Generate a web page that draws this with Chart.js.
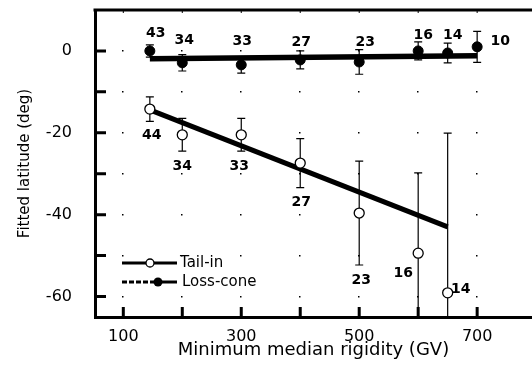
<!DOCTYPE html>
<html><head><meta charset="utf-8">
<script src="https://cdn.jsdelivr.net/npm/chart.js@4"></script>
<style>html,body{margin:0;padding:0;background:#fff;overflow:hidden}#wrap{width:532px;height:380px}</style>
</head><body><div id="wrap"><canvas id="c" width="532" height="380"></canvas></div>
<script>
// ---- data ----
const rigidityTail = [145, 200, 300, 400, 500, 600, 650];
const latTail      = [-14.2, -20.5, -20.5, -27.4, -39.6, -49.4, -59.1];
const errTail      = [3, 4, 4, 6, 12.7, 19.6, 39];
const countTail    = [44, 34, 33, 27, 23, 16, 14];

const rigidityLoss = [145, 200, 300, 400, 500, 600, 650, 700];
const latLoss      = [0, -2.9, -3.4, -2.2, -2.7, 0, -0.5, 1];
const errLoss      = [1.5, 2, 2, 2.2, 3, 2.2, 2.4, 3.8];
const countLoss    = [43, 34, 33, 27, 23, 16, 14, 10];

const fitTailX = [145, 650], fitTailY = [-14.4, -43];
const fitLossX = [145, 700], fitLossY = [-1.9, -1.2];

const xTickLabels = [100, 300, 500, 700];
const yTickLabels = [0, -20, -40, -60];
const xMinorTicks = [100, 200, 300, 400, 500, 600, 700];
const yMinorTicks = [0, -10, -20, -30, -40, -50, -60];
const seriesNames = ['Tail-in', 'Loss-cone'];

const FONT = 'DejaVu Sans';
const toXY = (xs, ys) => xs.map((v, i) => ({x: v, y: ys[i]}));

// label placement (pixel offsets from each point)
const tailLabelOffsets = [[2,26],[0,32],[-2,32],[1,39],[2,67],[-15,20],[13,-3]];
const lossLabelOffsets = [[6,-18],[2,-22],[1,-23],[1,-18],[6,-20],[5,-16],[5,-18],[23,-5]];

const noPad = s => { s.paddingTop = 0; s.paddingBottom = 0; s.paddingLeft = 0; s.paddingRight = 0; };

const decor = {
  id: 'decor',
  beforeDatasetsDraw(chart) {
    const {ctx, chartArea: a, scales: {x, y}} = chart;
    ctx.save();
    ctx.fillStyle = '#000';
    xMinorTicks.forEach(gx => yMinorTicks.forEach(gy => {
      const px = x.getPixelForValue(gx), py = y.getPixelForValue(gy);
      ctx.fillRect(Math.round(px) - 1, Math.round(py) - 1, 1.5, 1.5);
    }));
    ctx.strokeStyle = '#000';
    ctx.lineWidth = 3;
    ctx.beginPath();
    yMinorTicks.forEach(v => {
      const py = y.getPixelForValue(v);
      ctx.moveTo(a.left, py); ctx.lineTo(a.left + 11, py);
    });
    xMinorTicks.forEach(v => {
      const px = x.getPixelForValue(v);
      ctx.moveTo(px, a.bottom); ctx.lineTo(px, a.bottom - 10);
    });
    ctx.stroke();
    ctx.beginPath();
    ctx.moveTo(a.left - 1.5, a.top); ctx.lineTo(a.right, a.top);
    ctx.stroke();
    ctx.lineWidth = 1;
    ctx.beginPath();
    xMinorTicks.forEach(v => {
      const px = x.getPixelForValue(v);
      ctx.moveTo(px, a.top); ctx.lineTo(px, a.top + 3);
    });
    ctx.stroke();
    ctx.beginPath();
    ctx.rect(a.left, a.top, a.right - a.left, a.bottom - a.top);
    ctx.clip();
    ctx.lineWidth = 1.2;
    const bars = (xs, ys, es) => xs.forEach((xv, i) => {
      const px = x.getPixelForValue(xv);
      const p1 = y.getPixelForValue(ys[i] + es[i]);
      const p2 = y.getPixelForValue(ys[i] - es[i]);
      ctx.beginPath();
      ctx.moveTo(px, p1); ctx.lineTo(px, p2);
      ctx.moveTo(px - 4, p1); ctx.lineTo(px + 4, p1);
      ctx.moveTo(px - 4, p2); ctx.lineTo(px + 4, p2);
      ctx.stroke();
    });
    bars(rigidityTail, latTail, errTail);
    bars(rigidityLoss, latLoss, errLoss);
    ctx.restore();
  },
  afterDatasetsDraw(chart) {
    const {ctx, scales: {x, y}} = chart;
    ctx.save();
    ctx.fillStyle = '#000';
    ctx.font = 'bold 14px "' + FONT + '"';
    ctx.textAlign = 'center';
    ctx.textBaseline = 'middle';
    const labels = (xs, ys, ns, offs) => xs.forEach((xv, i) => {
      const px = x.getPixelForValue(xv), py = y.getPixelForValue(ys[i]);
      ctx.fillText(String(ns[i]), px + offs[i][0], py + offs[i][1]);
    });
    labels(rigidityTail, latTail, countTail, tailLabelOffsets);
    labels(rigidityLoss, latLoss, countLoss, lossLabelOffsets);

    const lx0 = 122, lx1 = 177, mx = 150, ty = 263, ly = 282;
    ctx.strokeStyle = '#000';
    ctx.lineWidth = 3;
    ctx.beginPath(); ctx.moveTo(lx0, ty); ctx.lineTo(lx1, ty); ctx.stroke();
    ctx.setLineDash([5, 2]);
    ctx.beginPath(); ctx.moveTo(lx0, ly); ctx.lineTo(mx, ly); ctx.stroke();
    ctx.setLineDash([]);
    ctx.beginPath(); ctx.moveTo(mx, ly); ctx.lineTo(lx1, ly); ctx.stroke();
    ctx.lineWidth = 1.3;
    ctx.fillStyle = '#fff';
    ctx.beginPath(); ctx.arc(mx, ty, 4, 0, Math.PI * 2); ctx.fill(); ctx.stroke();
    ctx.fillStyle = '#000';
    ctx.beginPath(); ctx.arc(mx + 8, ly, 4.5, 0, Math.PI * 2); ctx.fill();
    ctx.font = '15px "' + FONT + '"';
    ctx.textAlign = 'left';
    ctx.fillText(seriesNames[0], 180, ty);
    ctx.fillText(seriesNames[1], 182, ly);
    ctx.restore();
  }
};

new Chart(document.getElementById('c'), {
  type: 'scatter',
  data: {
    datasets: [
      {label: seriesNames[0], data: toXY(rigidityTail, latTail), pointRadius: 5,
       pointBackgroundColor: '#fff', pointBorderColor: '#000', pointBorderWidth: 1.3, showLine: false},
      {label: seriesNames[1], data: toXY(rigidityLoss, latLoss), pointRadius: 5,
       pointBackgroundColor: '#000', pointBorderColor: '#000', pointBorderWidth: 1, showLine: false},
      {label: 'Tail-in fit', data: toXY(fitTailX, fitTailY), showLine: true, pointRadius: 0,
       borderColor: '#000', borderWidth: 5, borderCapStyle: 'butt'},
      {label: 'Loss-cone fit', data: toXY(fitLossX, fitLossY), showLine: true, pointRadius: 0,
       borderColor: '#000', borderWidth: 5.5, borderCapStyle: 'butt'}
    ]
  },
  options: {
    responsive: false,
    animation: false,
    devicePixelRatio: 1,
    layout: {autoPadding: false, padding: {top: 10, left: 0, right: 0, bottom: 0}},
    plugins: {legend: {display: false}, tooltip: {enabled: false}},
    scales: {
      x: {
        type: 'linear', min: 52, max: 793,
        grid: {display: false},
        border: {display: true, color: '#000', width: 3},
        afterBuildTicks: s => { s.ticks = xTickLabels.map(v => ({value: v})); },
        afterFit: s => { s.height = 63; noPad(s); },
        ticks: {color: '#000', font: {family: FONT, size: 16}, padding: 2, maxRotation: 0, autoSkip: false},
        title: {display: true, text: 'Minimum median rigidity (GV)', color: '#000',
                font: {family: FONT, size: 18}, padding: {top: 0, bottom: 19}}
      },
      y: {
        type: 'linear', min: -65, max: 10,
        grid: {display: false},
        border: {display: true, color: '#000', width: 3},
        afterBuildTicks: s => { s.ticks = yTickLabels.map(v => ({value: v})); },
        afterFit: s => { s.width = 95; noPad(s); },
        ticks: {color: '#000', font: {family: FONT, size: 16}, padding: 15},
        title: {display: true, text: 'Fitted latitude (deg)', color: '#000',
                font: {family: FONT, size: 15}, padding: {top: 16, bottom: 0}}
      }
    }
  },
  plugins: [decor]
});
</script></body></html>
